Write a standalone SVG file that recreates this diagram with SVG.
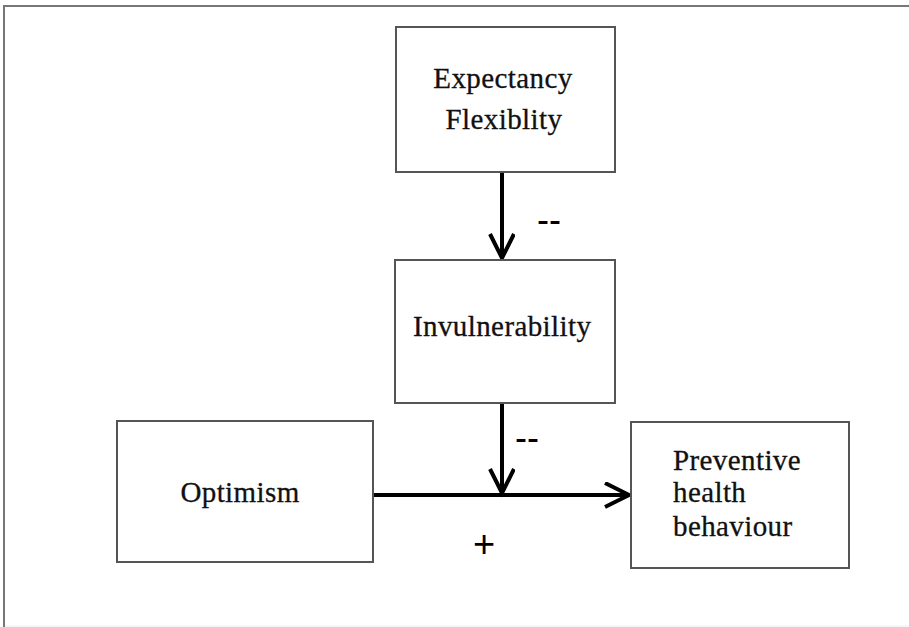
<svg xmlns="http://www.w3.org/2000/svg" width="909" height="627" viewBox="0 0 909 627">
<defs>
<style>
.box{fill:#fff;stroke:#555;stroke-width:2}
.t{font-family:"Liberation Serif","Times New Roman",serif;font-size:29px;letter-spacing:0.4px;fill:#111;stroke:#111;stroke-width:0.3}
.lbl{font-family:"Liberation Sans",Arial,sans-serif;fill:#000}
.ln{stroke:#000;stroke-width:4;fill:none}
</style>
<marker id="ah" markerUnits="userSpaceOnUse" markerWidth="40" markerHeight="40" refX="26" refY="13" orient="auto" viewBox="0 0 40 40">
<path d="M2,1 L26,13 L2,25" fill="none" stroke="#000" stroke-width="4" stroke-linejoin="miter"/>
</marker>
</defs>
<rect width="909" height="627" fill="#fff"/>
<g id="frame">
<path d="M4,627 V6 H909" fill="none" stroke="#777" stroke-width="2"/>
<path d="M5,626 H909" fill="none" stroke="#eee" stroke-width="1"/>
</g>
<g id="connectors">
<line class="ln" x1="502" y1="172" x2="502" y2="258" marker-end="url(#ah)"/>
<line class="ln" x1="502" y1="403" x2="502" y2="493" marker-end="url(#ah)"/>
<line class="ln" x1="373" y1="495" x2="629" y2="495" marker-end="url(#ah)"/>
<text class="lbl" x="537" y="232" font-size="36">--</text>
<text class="lbl" x="515" y="450" font-size="36">--</text>
<text class="lbl" x="473" y="557" font-size="38">+</text>
</g>
<g id="expectancy">
<rect class="box" x="396" y="27" width="219" height="145"/>
<text class="t" x="503" y="88" text-anchor="middle">Expectancy</text>
<text class="t" x="504" y="129" text-anchor="middle">Flexiblity</text>
</g>
<g id="invulnerability">
<rect class="box" x="395" y="260" width="220" height="143"/>
<text class="t" x="413" y="336">Invulnerability</text>
</g>
<g id="optimism">
<rect class="box" x="117" y="421" width="256" height="141"/>
<text class="t" x="240" y="502" text-anchor="middle">Optimism</text>
</g>
<g id="preventive">
<rect class="box" x="631" y="422" width="218" height="146"/>
<text class="t" x="673" y="470">Preventive</text>
<text class="t" x="673" y="502">health</text>
<text class="t" x="673" y="536">behaviour</text>
</g>
</svg>
